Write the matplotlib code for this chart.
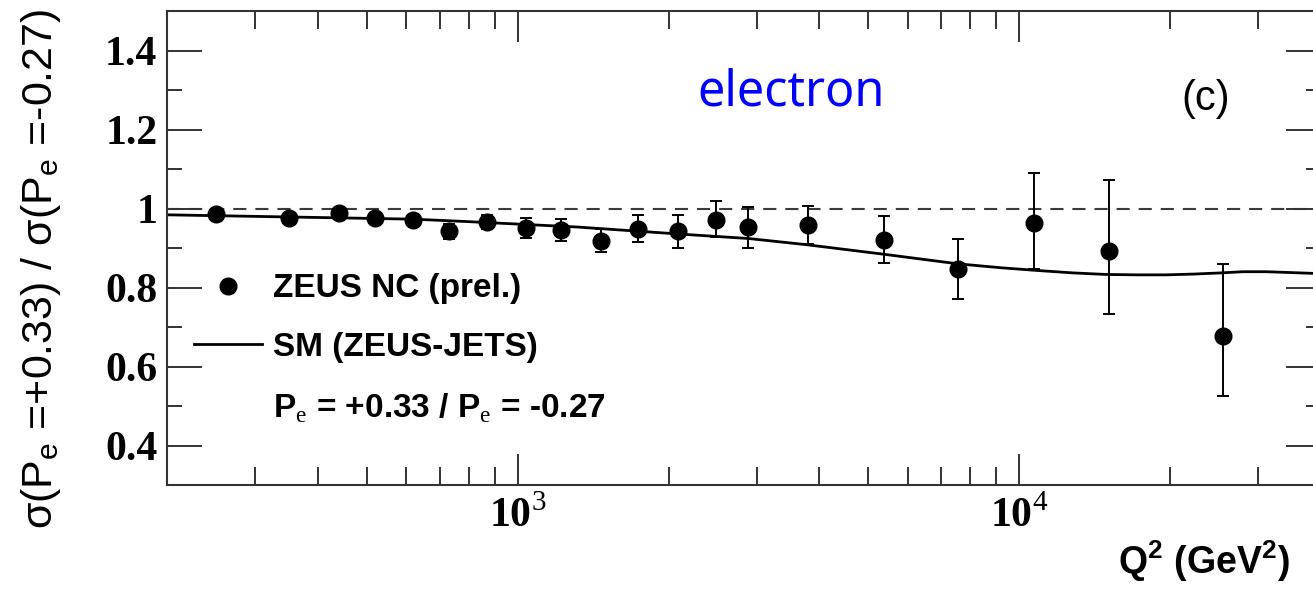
import numpy as np
import matplotlib
matplotlib.use("Agg")
import matplotlib.pyplot as plt
from matplotlib.lines import Line2D
from matplotlib.ticker import LogLocator, NullFormatter, MultipleLocator

plt.rcParams["mathtext.fontset"] = "custom"
plt.rcParams["mathtext.rm"] = "Liberation Serif"
plt.rcParams["mathtext.bf"] = "Liberation Serif:bold"

# ZEUS NC polarised cross-section ratio, e- beam
q2 = [250, 350, 440, 520, 620, 730, 870, 1040, 1220, 1470,
      1740, 2090, 2490, 2880, 3790, 5390, 7540, 10700, 15100, 25500]
ratio = [0.987, 0.975, 0.988, 0.977, 0.971, 0.942, 0.965, 0.950, 0.946, 0.918,
         0.948, 0.942, 0.971, 0.953, 0.959, 0.921, 0.847, 0.963, 0.893, 0.678]
err_lo = [0.012, 0.012, 0.012, 0.012, 0.013, 0.020, 0.018, 0.025, 0.028, 0.029,
          0.033, 0.042, 0.042, 0.053, 0.048, 0.060, 0.075, 0.117, 0.160, 0.152]
err_hi = [0.012, 0.012, 0.012, 0.012, 0.013, 0.020, 0.018, 0.025, 0.028, 0.029,
          0.036, 0.042, 0.049, 0.052, 0.048, 0.060, 0.075, 0.128, 0.178, 0.181]

# SM expectation (ZEUS-JETS PDFs)
sm_q2 = [200, 370, 620, 790, 1320, 2120, 2890, 3790, 5390, 7540, 9200,
         10900, 12800, 14900, 17200, 19600, 22300, 25300, 28000, 31000, 34500, 38200, 40000]
sm_ratio = [0.984, 0.978, 0.973, 0.967, 0.953, 0.935, 0.924, 0.908, 0.884, 0.860, 0.850,
            0.843, 0.837, 0.833, 0.832, 0.832, 0.834, 0.837, 0.840, 0.840, 0.838, 0.836, 0.835]

xmajor = [1e3, 1e4]
ymajor = [0.4, 0.6, 0.8, 1.0, 1.2, 1.4]
ylabels = ["0.4", "0.6", "0.8", "1", "1.2", "1.4"]

fig = plt.figure(figsize=(13.13, 5.90), dpi=100)
ax = fig.add_axes([167 / 1313, 105 / 590, 1154 / 1313, 474 / 590])

ax.axhline(1.0, color="#3a3a3a", lw=1.5, ls=(0, (6.3, 4.3)), zorder=1)
sm_line, = ax.plot(sm_q2, sm_ratio, color="black", lw=2.0, zorder=2)
ax.errorbar(q2, ratio, yerr=[err_lo, err_hi], fmt="none", ecolor="black",
            elinewidth=1.4, capsize=4.5, capthick=1.4, zorder=3)
pts, = ax.plot(q2, ratio, "o", color="black", ms=12, zorder=4)

ax.set_xscale("log")
ax.set_xlim(200, 40000)
ax.set_ylim(0.3, 1.5)

ax.set_xticks(xmajor, labels=[r"$\mathbf{10}^{%d}$" % int(np.log10(v)) for v in xmajor])
ax.xaxis.set_minor_locator(LogLocator(base=10, subs=np.arange(2, 10)))
ax.xaxis.set_minor_formatter(NullFormatter())
ax.set_yticks(ymajor, labels=ylabels)
ax.yaxis.set_minor_locator(MultipleLocator(0.1))

for s in ax.spines.values():
    s.set_linewidth(1.5)
    s.set_color("#333333")
ax.tick_params(which="both", direction="in", top=True, right=True,
               color="#333333", width=1.4)
ax.tick_params(axis="y", which="major", length=25, pad=7)
ax.tick_params(axis="y", which="minor", length=11)
ax.tick_params(axis="x", which="major", length=22, pad=8)
ax.tick_params(axis="x", which="minor", length=13)
for lab in ax.get_yticklabels() + ax.get_xticklabels():
    lab.set_fontfamily("Liberation Serif")
    lab.set_fontweight("bold")
    lab.set_fontsize(30)

blank = Line2D([], [], color="none")
ax.legend([pts, sm_line, blank],
          ["ZEUS NC (prel.)", "SM (ZEUS-JETS)",
           r"P$_{\rm e}$ = +0.33 / P$_{\rm e}$ = -0.27"],
          loc="center left", bbox_to_anchor=((194 - 167) / 1154, (485 - 349) / 474),
          frameon=False, borderpad=0, borderaxespad=0, handlelength=2.04,
          handletextpad=0.33, labelspacing=0.83, markerscale=1.0,
          prop={"family": "Liberation Sans", "weight": "bold", "size": 24})

fig.text(52 / 1313, 1 - 269 / 590,
         r"σ(P$_\mathregular{e}$ =+0.33) / σ(P$_\mathregular{e}$ =-0.27)",
         rotation=90, rotation_mode="anchor", ha="center", va="baseline",
         family="Liberation Sans", fontsize=31)
fig.text(1118 / 1313, 1 - 574 / 590, r"Q$^\mathregular{2}$ (GeV$^\mathregular{2}$)",
         ha="left", va="baseline", family="Liberation Sans", weight="bold", fontsize=27)
fig.text(697 / 1313, 1 - 105 / 590, "electron", color="#0000ff", ha="left",
         va="baseline", family="Noto Sans", fontsize=35)
fig.text(1181 / 1313, 1 - 110 / 590, "(c)", ha="left", va="baseline",
         family="Liberation Sans", fontsize=30)

fig.savefig("out.png", dpi=100)
